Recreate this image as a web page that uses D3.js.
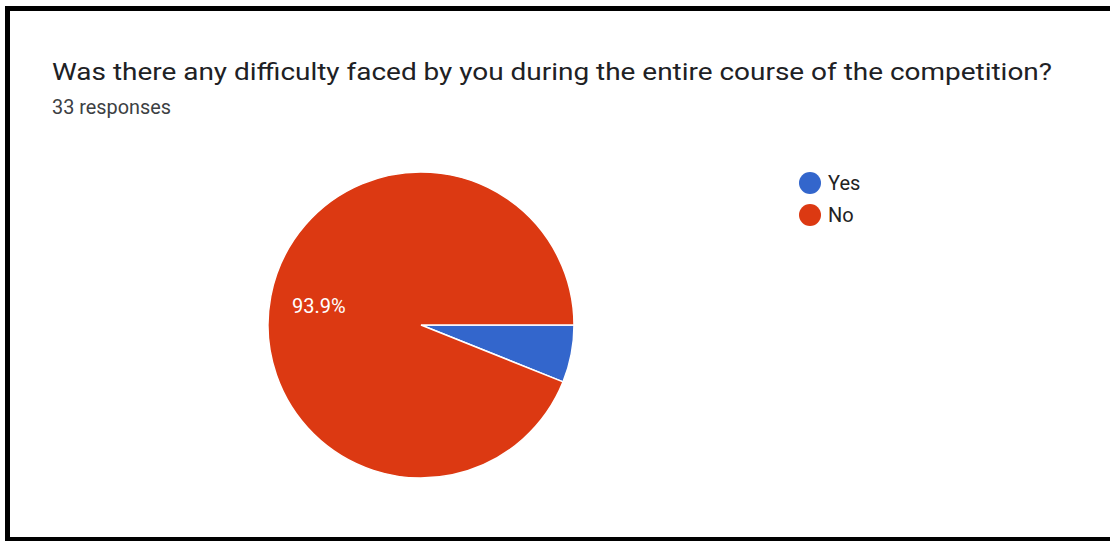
<!DOCTYPE html>
<html><head><meta charset="utf-8">
<script src="https://cdn.jsdelivr.net/npm/d3@7"></script>
<style>html,body{margin:0;padding:0;background:#fff;}svg{display:block;}</style>
</head><body>
<svg id="c" width="1110" height="541"></svg>
<script>
const categories = ["Yes", "No"];
const counts = [2, 31];
const colors = ["#3366cc", "#dc3912"];
const title = "Was there any difficulty faced by you during the entire course of the competition?";
const subtitle = "33 responses";

const svg = d3.select("#c");
// frame
svg.append("rect").attr("x", 0).attr("y", 0).attr("width", 1110).attr("height", 541).attr("fill", "#fff");
svg.append("rect").attr("x", 5).attr("y", 6).attr("width", 1105).attr("height", 5).attr("fill", "#000");
svg.append("rect").attr("x", 5).attr("y", 6).attr("width", 5).attr("height", 535).attr("fill", "#000");
svg.append("rect").attr("x", 5).attr("y", 537).attr("width", 1105).attr("height", 4).attr("fill", "#000");

svg.append("text").attr("x", 52).attr("y", 80)
  .attr("font-family", "Roboto, 'Open Sans', sans-serif").attr("font-size", 24.5)
  .attr("fill", "#202124").attr("textLength", 1000).attr("lengthAdjust", "spacingAndGlyphs")
  .text(title);
svg.append("text").attr("x", 52).attr("y", 114)
  .attr("font-family", "Roboto, sans-serif").attr("font-size", 19.5)
  .attr("fill", "#3c4043").attr("textLength", 119).attr("lengthAdjust", "spacingAndGlyphs")
  .text(subtitle);

const cx = 421, cy = 325, r = 153;
const total = d3.sum(counts);
const pie = d3.pie().sort(null).value(d => d.v)
  .startAngle(Math.PI / 2).endAngle(Math.PI / 2 + 2 * Math.PI);
const data = categories.map((c, i) => ({ c, v: counts[i], col: colors[i] }));
const arcs = pie(data);
const arc = d3.arc().innerRadius(0).outerRadius(r);
const g = svg.append("g").attr("transform", `translate(${cx},${cy})`);
g.selectAll("path").data(arcs).enter().append("path")
  .attr("d", arc).attr("fill", d => d.data.col)
  .attr("stroke", "#fff").attr("stroke-width", 1.5);

// label for large slice
arcs.forEach(a => {
  const pct = a.data.v / total * 100;
  if (pct > 10) {
    g.append("text").attr("x", 292 - cx).attr("y", 313 - cy)
      .attr("font-family", "Roboto, sans-serif").attr("font-size", 20)
      .attr("fill", "#fff").text(pct.toFixed(1) + "%");
  }
});

// legend
const leg = svg.append("g");
categories.forEach((c, i) => {
  const y = 183 + i * 32;
  leg.append("circle").attr("cx", 810).attr("cy", y).attr("r", 11).attr("fill", colors[i]);
  leg.append("text").attr("x", 828).attr("y", y + 7)
    .attr("font-family", "Roboto, sans-serif").attr("font-size", 20)
    .attr("fill", "#222").text(c);
});
</script>
</body></html>
